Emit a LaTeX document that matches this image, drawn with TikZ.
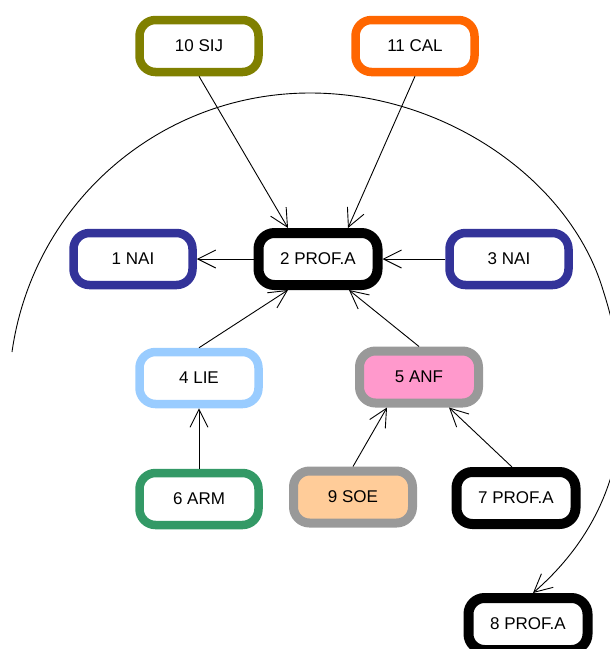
\documentclass[tikz,border=0pt]{standalone}
\usepackage{fontspec}
\setmainfont{Liberation Sans}
\usetikzlibrary{arrows.meta}
\definecolor{olivec}{RGB}{128,128,0}
\definecolor{orangec}{RGB}{255,102,0}
\definecolor{bluec}{RGB}{51,51,153}
\definecolor{lightbluec}{RGB}{153,204,255}
\definecolor{grayc}{RGB}{153,153,153}
\definecolor{pinkc}{RGB}{255,153,204}
\definecolor{greenc}{RGB}{51,153,102}
\definecolor{peachc}{RGB}{255,204,153}
\begin{document}
\begin{tikzpicture}[x=1pt,y=-1pt,
  nd/.style={rectangle, rounded corners=16pt, minimum width=119pt, minimum height=52pt,
    inner sep=0pt, font=\fontsize{17}{20}\selectfont, fill=white, line width=8.5pt},
  blk/.style={nd, draw=black, line width=10pt},
  con/.style={line width=0.9pt, -{Straight Barb[length=18pt,width=18pt]}}]
\useasboundingbox (0,0) rectangle (610,649);

\node[nd, draw=olivec]  (n10) at (199,46)  {10 SIJ};
\node[nd, draw=orangec] (n11) at (415,46)  {11 CAL};
\node[nd, draw=bluec]   (n1)  at (133,259) {1 NAI};
\node[blk]              (n2)  at (318,259) {2 PROF.A};
\node[nd, draw=bluec]   (n3)  at (509,259) {3 NAI};
\node[nd, draw=lightbluec] (n4) at (199,378) {4 LIE};
\node[nd, draw=grayc, fill=pinkc, line width=9pt] (n5) at (419,377) {5 ANF};
\node[nd, draw=greenc]  (n6)  at (199,499) {6 ARM};
\node[nd, draw=grayc, fill=peachc, line width=9pt] (n9) at (353,497) {9 SOE};
\node[blk]              (n7)  at (516,498) {7 PROF.A};
\node[blk]              (n8)  at (528,624) {8 PROF.A};

\coordinate (a0) at (12,352);

\draw[con] (n10.south) -- ([xshift=-30pt]n2.north);
\draw[con] (n11.south) -- ([xshift=30pt]n2.north);
\draw[con] (n2.west) -- (n1.east);
\draw[con] (n3.west) -- (n2.east);
\draw[con] (n4.north) -- ([xshift=-30pt]n2.south);
\draw[con] (n5.north) -- ([xshift=31pt]n2.south);
\draw[con] (n6.north) -- (n4.south);
\draw[con] (n9.north) -- ([xshift=-32pt]n5.south);
\draw[con] ([xshift=-4pt]n7.north) -- ([xshift=30pt]n5.south);
\draw[con] (a0) .. controls (33,203) and (160,93) .. (310,93)
  .. controls (445,93) and (570,180) .. (603,290)
  .. controls (632,380) and (640,500) .. ([xshift=5pt]n8.north);
\end{tikzpicture}
\end{document}
